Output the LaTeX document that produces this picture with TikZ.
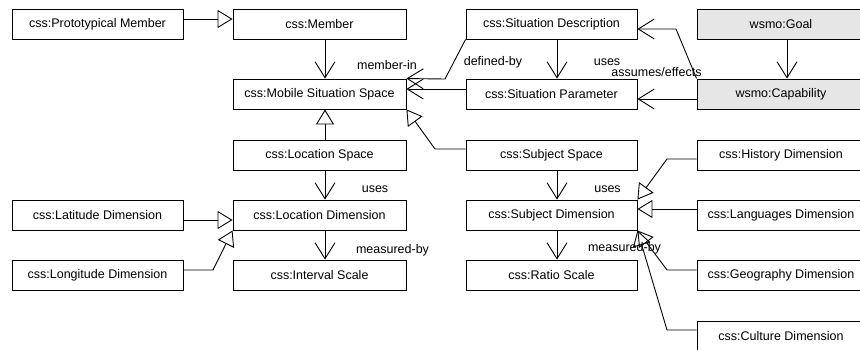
\documentclass[tikz,border=0pt]{standalone}
\usepackage{fontspec}
\setmainfont{Liberation Sans}
\usetikzlibrary{arrows.meta}
\definecolor{wsmogray}{HTML}{E6E6E6}
\tikzset{
  x=1pt, y=-1pt,
  box/.style={draw, line width=0.9pt, minimum width=171pt, minimum height=30pt, inner sep=0pt,
    font=\fontsize{12.5}{14}\selectfont},
  wbox/.style={box, minimum width=173pt},
  gbox/.style={box, minimum width=168pt, fill=wsmogray},
  rbox/.style={box, minimum width=168pt},
  lbl/.style={inner sep=0pt, font=\fontsize{12.5}{14}\selectfont},
  conn/.style={line width=0.9pt},
  vee/.style={conn, -{Straight Barb[length=16pt, width=20pt]}},
  tri/.style={conn, -{Triangle[open, length=15pt, width=18pt]}}
}
\begin{document}
\begin{tikzpicture}
\useasboundingbox (0,0) rectangle (860,350);
\fill[white] (0,0) rectangle (860,350);
\clip (0,0) rectangle (860,350);

% left column
\node[box] (proto) at (97.5,24) {css:Prototypical Member};
\node[box] (lat) at (97.5,215) {css:Latitude Dimension};
\node[box] (lon) at (97.5,275) {css:Longitude Dimension};

% middle-left column
\node[wbox] (member) at (319.5,24) {css:Member};
\node[wbox] (mss) at (319.5,94) {css:Mobile Situation Space};
\node[wbox] (locspace) at (319.5,155) {css:Location Space};
\node[wbox] (locdim) at (319.5,215) {css:Location Dimension};
\node[wbox] (interval) at (319.5,275) {css:Interval Scale};

% middle-right column
\node[box] (sitdesc) at (551.5,24) {css:Situation Description};
\node[box] (sitparam) at (551.5,94) {css:Situation Parameter};
\node[box] (subspace) at (551.5,155) {css:Subject Space};
\node[box] (subdim) at (551.5,215) {css:Subject Dimension};
\node[box] (ratio) at (551.5,275) {css:Ratio Scale};

% right column
\node[gbox] (goal) at (781,24) {wsmo:Goal};
\node[gbox] (cap) at (781,94) {wsmo:Capability};
\node[rbox] (hist) at (781,155) {css:History Dimension};
\node[rbox] (lang) at (781,215) {css:Languages Dimension};
\node[rbox] (geo) at (781,275) {css:Geography Dimension};
\node[rbox] (cult) at (781,336) {css:Culture Dimension};

% coordinates for bends
\coordinate (b1) at (213,270);
\coordinate (b2) at (445,79);
\coordinate (b3) at (435,149);
\coordinate (b4) at (676,29);
\coordinate (b5) at (667,159);
\coordinate (b6) at (667,270);
\coordinate (b7) at (667,330);

% connectors
\draw[tri] (proto.east |- 0,19) -- (member.west |- 0,19);
\draw[vee] (member.south -| 325,0) -- (mss.north -| 325,0);
\draw[tri] (locspace.north -| 325,0) -- (mss.south -| 325,0);
\draw[vee] (locspace.south -| 325,0) -- (locdim.north -| 325,0);
\draw[vee] (locdim.south -| 325,0) -- (interval.north -| 325,0);
\draw[tri] (lat.east |- 0,220) -- (locdim.west |- 0,220);
\draw[tri] (lon.east |- 0,270) -- (b1) -- (locdim.south west);

\draw[vee] (sitdesc.south -| 557,0) -- (sitparam.north -| 557,0);
\draw[vee] (sitdesc.south west) -- (b2) -- (mss.north east);
\draw[vee] (sitparam.west |- 0,89) -- (mss.east |- 0,89);
\draw[tri] (subspace.west |- 0,149) -- (b3) -- (mss.south east);
\draw[vee] (goal.south -| 787,0) -- (cap.north -| 787,0);
\draw[vee] (cap.west |- 0,99) -- (sitparam.east |- 0,99);
\draw[vee] (cap.north west) -- (b4) -- (sitdesc.east |- 0,29);
\draw[vee] (subspace.south -| 557,0) -- (subdim.north -| 557,0);
\draw[vee] (subdim.south -| 557,0) -- (ratio.north -| 557,0);
\draw[tri] (hist.west |- 0,159) -- (b5) -- (subdim.north east);
\draw[tri] (lang.west |- 0,209) -- (subdim.east |- 0,209);
\draw[tri] (geo.west |- 0,270) -- (b6) -- (subdim.south east);
\draw[tri] (cult.west |- 0,330) -- (b7) -- (subdim.south east);

% labels
\node[lbl] (l1) at (387,65) {member-in};
\node[lbl] (l2) at (493,62) {defined-by};
\node[lbl] (l3) at (607,62) {uses};
\node[lbl] (l4) at (656.5,72) {assumes/effects};
\node[lbl] (l5) at (375,189) {uses};
\node[lbl] (l6) at (392.5,250) {measured-by};
\node[lbl] (l7) at (607.5,189) {uses};
\node[lbl] (l8) at (624.5,248) {measured-by};
\end{tikzpicture}
\end{document}
